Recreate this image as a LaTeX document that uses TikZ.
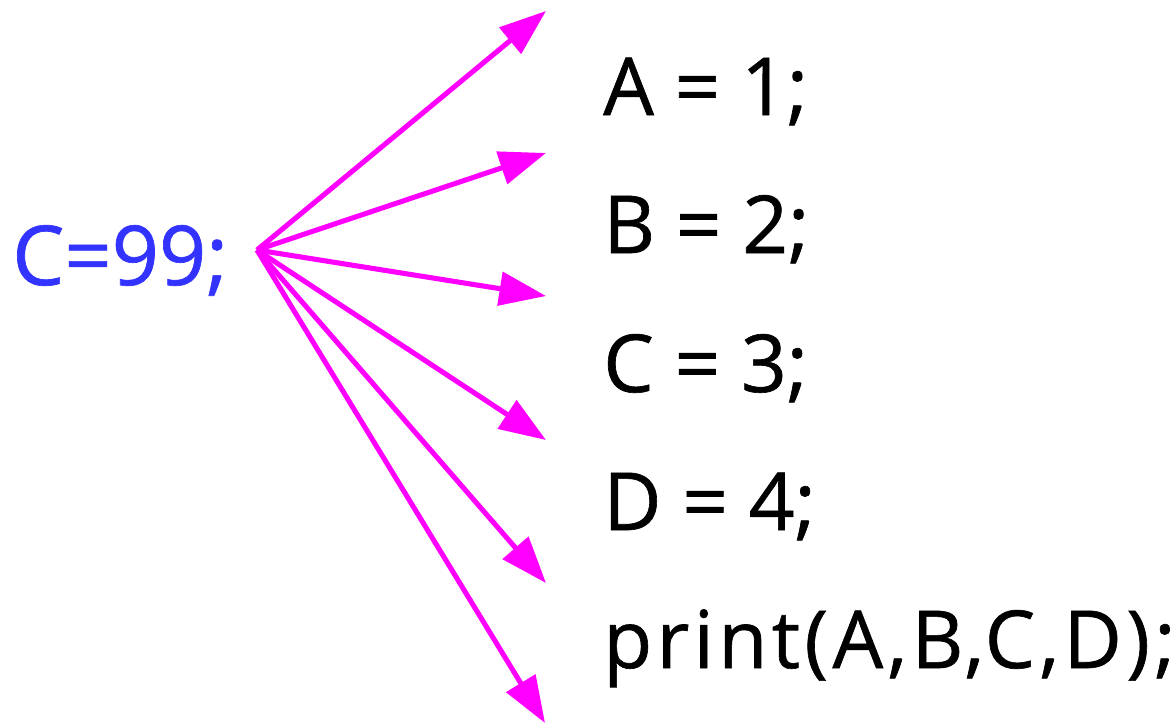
\documentclass[tikz,border=0pt]{standalone}
\usepackage{fontspec}
\setmainfont{Open Sans}[FakeBold=0.8]
\usetikzlibrary{arrows.meta}
\definecolor{codeblue}{RGB}{51,51,255}
\definecolor{arrowmag}{RGB}{255,0,255}
\begin{document}
\begin{tikzpicture}[x=0.75pt,y=-0.75pt,
  code/.style={anchor=base west,inner sep=0pt,font=\fontsize{60}{70}\selectfont},
  src/.style={anchor=base west,inner sep=0pt,text=codeblue,font=\fontsize{62}{72}\selectfont},
  link/.style={draw=arrowmag,line width=3.8pt,-{Triangle[length=35pt,width=25pt]}}]
\useasboundingbox (0,0) rectangle (1176,726);
\node[src] (c99) at (12,285) {C=99;};
\coordinate (o) at (257,250);
\node[code] (a) at (603,115) {A = 1;};
\node[code] (b) at (603,253) {B = 2;};
\node[code] (c) at (603,392) {C = 3;};
\node[code] (d) at (603,530) {D = 4;};
\node[code] (p) at (603,668) {\addfontfeature{LetterSpace=5.5}print(A,B,C,D);};
\coordinate (t1) at (546,11);
\coordinate (t2) at (546,153);
\coordinate (t3) at (546,296);
\coordinate (t4) at (546,440);
\coordinate (t5) at (546,583);
\coordinate (t6) at (545,723);
\foreach \t in {t1,t2,t3,t4,t5,t6}
  \draw[link] (o) -- (\t);
\end{tikzpicture}
\end{document}
